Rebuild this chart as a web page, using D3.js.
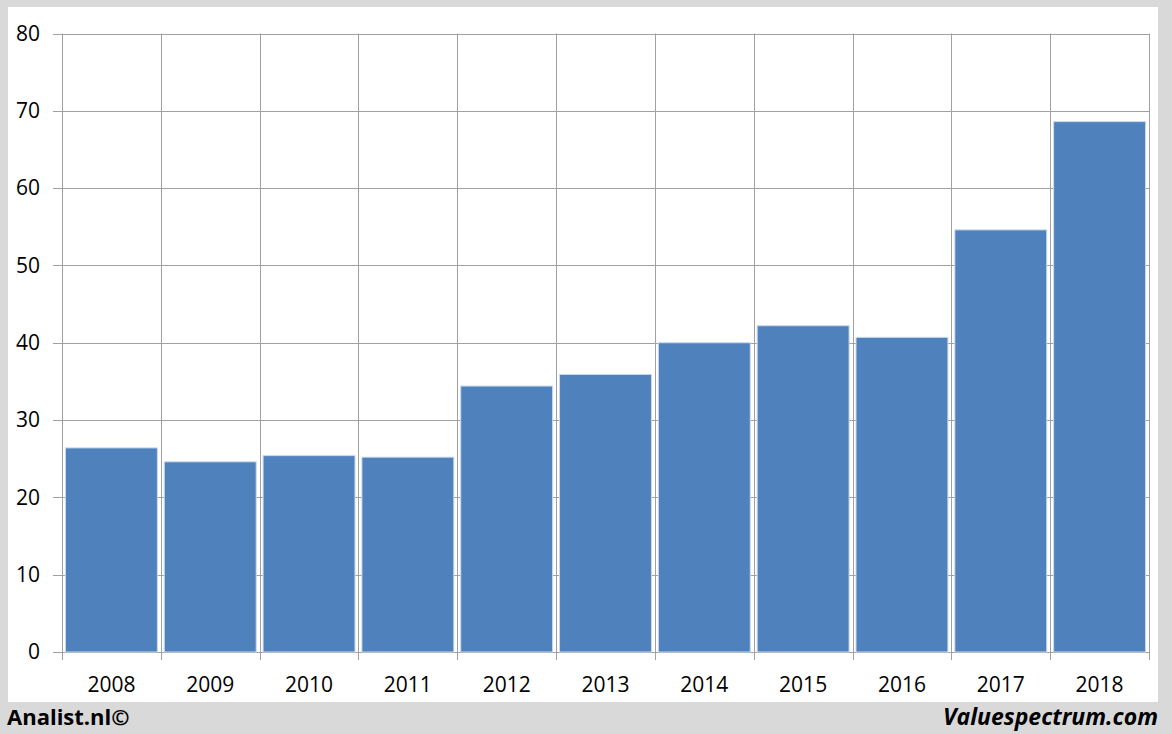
<!DOCTYPE html>
<html><head><meta charset="utf-8">
<script src="https://cdn.jsdelivr.net/npm/d3@7"></script>
<style>body{margin:0;background:#d9d9d9;}svg{display:block;}</style>
</head><body>
<script>
const years = ["2008","2009","2010","2011","2012","2013","2014","2015","2016","2017","2018"];
const values = [26.4, 24.6, 25.4, 25.2, 34.4, 35.9, 40.0, 42.2, 40.7, 54.6, 68.6];
const yTicks = [0,10,20,30,40,50,60,70,80];

const W=1172,H=734;
const svg=d3.select("body").append("svg").attr("width",W).attr("height",H);
svg.append("rect").attr("width",W).attr("height",H).attr("fill","#d9d9d9");
svg.append("rect").attr("x",8).attr("y",7).attr("width",1150).attr("height",695).attr("fill","#fff");

const x=d3.scaleBand().domain(years).range([62,1149]).paddingInner(0.07).paddingOuter(0.035);
const xb=d3.scaleBand().domain(years).range([62,1149]);
const y=d3.scaleLinear().domain([0,80]).range([652,33.5]);
const font="'Open Sans', 'Liberation Sans', sans-serif";
const grid="#a0a0a0";

svg.append("g").selectAll("line").data(yTicks).join("line")
 .attr("x1",53).attr("x2",1149).attr("y1",d=>Math.round(y(d))+0.5).attr("y2",d=>Math.round(y(d))+0.5)
 .attr("stroke",grid).attr("stroke-width",1);
const bounds=years.map(d=>xb(d)).concat([xb.range()[1]]);
svg.append("g").selectAll("line").data(bounds).join("line")
 .attr("x1",d=>Math.round(d)+0.5).attr("x2",d=>Math.round(d)+0.5)
 .attr("y1",y(80)).attr("y2",660).attr("stroke",grid).attr("stroke-width",1);

svg.append("g").selectAll("rect").data(years).join("rect")
 .attr("x",d=>x(d)).attr("width",x.bandwidth())
 .attr("y",(d,i)=>y(values[i])).attr("height",(d,i)=>y(0)-y(values[i]))
 .attr("fill","#4f81bd").attr("stroke","#c9d9ee").attr("stroke-width",1);

svg.append("g").selectAll("text").data(yTicks).join("text")
 .attr("x",40).attr("y",d=>y(d)).attr("dy","0.35em").attr("text-anchor","end")
 .attr("font-family",font).attr("font-size",21).attr("fill","#000").text(d=>d);
svg.append("g").selectAll("text").data(years).join("text")
 .attr("x",d=>xb(d)+xb.bandwidth()/2).attr("y",685).attr("dy","0.35em").attr("text-anchor","middle")
 .attr("font-family",font).attr("font-size",21).attr("fill","#000").text(d=>d);

svg.append("text").attr("x",7).attr("y",725).attr("font-family",font).attr("font-weight","bold")
 .attr("font-size",22).attr("fill","#000").text("Analist.nl©");
svg.append("text").attr("x",1158).attr("y",725).attr("text-anchor","end").attr("font-family",font)
 .attr("font-weight","bold").attr("font-style","italic").attr("font-size",23).attr("fill","#000").text("Valuespectrum.com");
</script>
</body></html>
